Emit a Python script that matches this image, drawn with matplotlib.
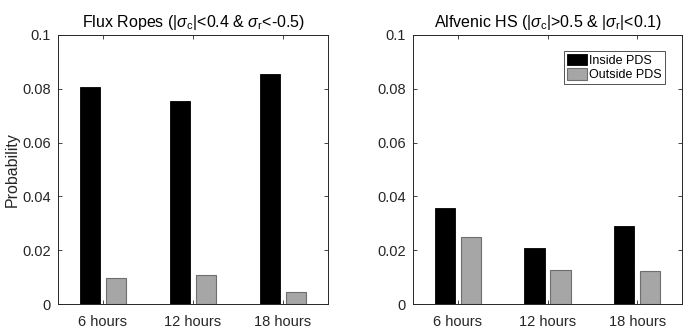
import matplotlib.pyplot as plt
import numpy as np

plt.rcParams['font.family'] = ['Liberation Sans', 'DejaVu Sans']
plt.rcParams['mathtext.fontset'] = 'custom'
plt.rcParams['mathtext.rm'] = 'Liberation Sans'
plt.rcParams['mathtext.it'] = 'Liberation Sans:italic'

# data
categories = ['6 hours', '12 hours', '18 hours']
flux_inside = [0.0805, 0.0755, 0.0855]
flux_outside = [0.0098, 0.0106, 0.0046]
alf_inside = [0.0357, 0.0210, 0.0289]
alf_outside = [0.0248, 0.0128, 0.0122]
yticks = [0, 0.02, 0.04, 0.06, 0.08, 0.1]
ytick_labels = ['0', '0.02', '0.04', '0.06', '0.08', '0.1']

titles = [r'Flux Ropes (|$\sigma_{\rm c}$|<0.4 & $\sigma_{\rm r}$<-0.5)',
          r'Alfvenic HS (|$\sigma_{\rm c}$|>0.5 & |$\sigma_{\rm r}$|<0.1)']

fig = plt.figure(figsize=(6.83, 3.31), dpi=100)
ax1 = fig.add_axes([58 / 683, 27 / 331, 270 / 683, 269 / 331])
ax2 = fig.add_axes([413 / 683, 27 / 331, 269 / 683, 269 / 331])

x = np.arange(1, len(categories) + 1)
w = 0.23
off = 0.145
axcol = '#262626'

for ax, inside, outside, title in [(ax1, flux_inside, flux_outside, titles[0]),
                                   (ax2, alf_inside, alf_outside, titles[1])]:
    ax.bar(x - off, inside, w, color='black', edgecolor='black', linewidth=0.6,
           label='Inside PDS')
    ax.bar(x + off, outside, w, color='#a6a6a6', edgecolor='#6e6e6e', linewidth=0.8,
           label='Outside PDS')
    ax.set_xlim(0.5, 3.5)
    ax.set_ylim(0, 0.1)
    ax.set_xticks(x)
    ax.set_xticklabels(categories)
    ax.set_yticks(yticks)
    ax.set_yticklabels(ytick_labels)
    ax.tick_params(direction='in', top=True, right=True, length=3, width=0.6,
                   colors=axcol, labelsize=10.5, pad=5)
    ax.tick_params(axis='x', pad=8)
    for s in ax.spines.values():
        s.set_color(axcol)
        s.set_linewidth(0.7)
    ax.set_title(title, fontsize=11.5, color='black', pad=6)

ax1.set_ylabel('Probability', fontsize=11.5, color=axcol, labelpad=2)

leg = ax2.legend(loc='upper right', bbox_to_anchor=(0.935, 0.94), fontsize=9,
                 frameon=True, fancybox=False, edgecolor=axcol, handlelength=1.6,
                 handleheight=1.0, handletextpad=0.2, borderpad=0.2,
                 labelspacing=0.15, borderaxespad=0)
leg.get_frame().set_linewidth(0.7)

fig.savefig('out.png', dpi=100)
